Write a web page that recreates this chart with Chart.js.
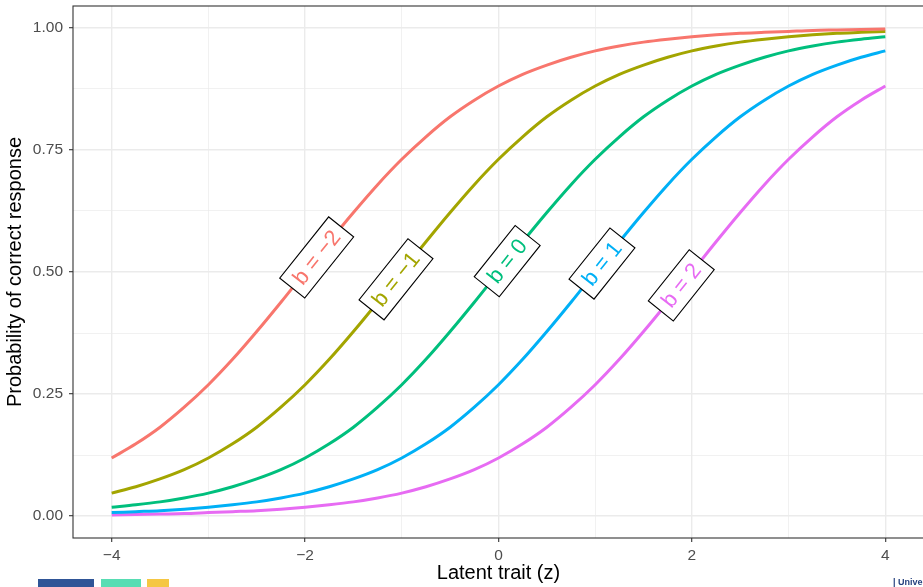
<!DOCTYPE html>
<html lang="en">
<head>
  <meta charset="UTF-8">
  <title>Item characteristic curves</title>
  <script src="https://cdn.jsdelivr.net/npm/chart.js"></script>
  <style>
    html, body { margin: 0; padding: 0; background: #fff; overflow: hidden; }
    #wrap { position: absolute; left: 0; top: 0; width: 930px; height: 587px; }
    .logo { position: absolute; top: 579px; height: 8px; }
    #uni { position: absolute; left: 893px; top: 577px; font: bold 9px 'Liberation Sans', Arial, sans-serif; color: #27427f; }
  </style>
</head>
<body>
  <div id="wrap"><canvas id="icc"></canvas></div>
  <div class="logo" style="left:38px;width:56px;background:#2f5597"></div>
  <div class="logo" style="left:101px;width:40px;background:#57ddb3"></div>
  <div class="logo" style="left:147px;width:22px;background:#f5c743"></div>
  <div id="uni">| Unive</div>

  <script>
    // latent trait grid and curves
    const zValues = [-4, -3.75, -3.5, -3.25, -3, -2.75, -2.5, -2.25, -2, -1.75, -1.5, -1.25, -1, -0.75, -0.5, -0.25,
      0, 0.25, 0.5, 0.75, 1, 1.25, 1.5, 1.75, 2, 2.25, 2.5, 2.75, 3, 3.25, 3.5, 3.75, 4];

    const bNeg2 = [0.119, 0.148, 0.182, 0.223, 0.269, 0.321, 0.378, 0.438, 0.500, 0.562, 0.622, 0.679, 0.731, 0.777, 0.818, 0.852,
      0.881, 0.905, 0.924, 0.940, 0.953, 0.963, 0.971, 0.977, 0.982, 0.986, 0.989, 0.991, 0.993, 0.995, 0.996, 0.997, 0.998];
    const bNeg1 = [0.047, 0.060, 0.076, 0.095, 0.119, 0.148, 0.182, 0.223, 0.269, 0.321, 0.378, 0.438, 0.500, 0.562, 0.622, 0.679,
      0.731, 0.777, 0.818, 0.852, 0.881, 0.905, 0.924, 0.940, 0.953, 0.963, 0.971, 0.977, 0.982, 0.986, 0.989, 0.991, 0.993];
    const b0 = [0.018, 0.023, 0.029, 0.037, 0.047, 0.060, 0.076, 0.095, 0.119, 0.148, 0.182, 0.223, 0.269, 0.321, 0.378, 0.438,
      0.500, 0.562, 0.622, 0.679, 0.731, 0.777, 0.818, 0.852, 0.881, 0.905, 0.924, 0.940, 0.953, 0.963, 0.971, 0.977, 0.982];
    const b1 = [0.007, 0.009, 0.011, 0.014, 0.018, 0.023, 0.029, 0.037, 0.047, 0.060, 0.076, 0.095, 0.119, 0.148, 0.182, 0.223,
      0.269, 0.321, 0.378, 0.438, 0.500, 0.562, 0.622, 0.679, 0.731, 0.777, 0.818, 0.852, 0.881, 0.905, 0.924, 0.940, 0.953];
    const b2 = [0.002, 0.003, 0.004, 0.005, 0.007, 0.009, 0.011, 0.014, 0.018, 0.023, 0.029, 0.037, 0.047, 0.060, 0.076, 0.095,
      0.119, 0.148, 0.182, 0.223, 0.269, 0.321, 0.378, 0.438, 0.500, 0.562, 0.622, 0.679, 0.731, 0.777, 0.818, 0.852, 0.881];

    const seriesNames = ['b = \u22122', 'b = \u22121', 'b = 0', 'b = 1', 'b = 2'];
    const seriesValues = [bNeg2, bNeg1, b0, b1, b2];
    const seriesColors = ['#F8766D', '#A3A500', '#00BF7D', '#00B0F6', '#E76BF3'];

    const xMajor = [-4, -2, 0, 2, 4];
    const xMinor = [-3, -1, 1, 3];
    const yMajor = [0, 0.25, 0.5, 0.75, 1];
    const yMinor = [0.125, 0.375, 0.625, 0.875];

    const FONT = "'Liberation Sans', Arial, sans-serif";
    const GRID = '#ebebeb';

    // where each curve's label box sits (latent trait value along the curve)
    const labelAt = [-1.88, -1.06, 0.09, 1.07, 1.89];

    function interp(vals, z) {
      for (let i = 0; i < zValues.length - 1; i++) {
        if (z >= zValues[i] && z <= zValues[i + 1]) {
          const f = (z - zValues[i]) / (zValues[i + 1] - zValues[i]);
          return vals[i] + f * (vals[i + 1] - vals[i]);
        }
      }
      return vals[vals.length - 1];
    }

    const panelBorder = {
      id: 'panelBorder',
      afterDraw(chart) {
        const { ctx, chartArea: a } = chart;
        ctx.save();
        ctx.strokeStyle = '#333333';
        ctx.lineWidth = 1.1;
        ctx.strokeRect(a.left, a.top, a.right - a.left, a.bottom - a.top);
        ctx.restore();
      }
    };

    const curveLabels = {
      id: 'curveLabels',
      afterDatasetsDraw(chart) {
        const { ctx, scales } = chart;
        const xs = scales.x, ys = scales.y;
        ctx.save();
        ctx.font = '22px ' + FONT;
        seriesValues.forEach((vals, i) => {
          const z = labelAt[i];
          const px = xs.getPixelForValue(z);
          const py = ys.getPixelForValue(interp(vals, z));
          const dx = xs.getPixelForValue(z + 0.05) - xs.getPixelForValue(z - 0.05);
          const dy = ys.getPixelForValue(interp(vals, z + 0.05)) - ys.getPixelForValue(interp(vals, z - 0.05));
          const ang = Math.atan2(dy, dx);
          const w = ctx.measureText(seriesNames[i]).width + 16;
          const h = 32;
          ctx.save();
          ctx.translate(px, py);
          ctx.rotate(ang);
          ctx.fillStyle = '#ffffff';
          ctx.fillRect(-w / 2, -h / 2, w, h);
          ctx.strokeStyle = '#000000';
          ctx.lineWidth = 1.1;
          ctx.strokeRect(-w / 2, -h / 2, w, h);
          ctx.fillStyle = seriesColors[i];
          ctx.textAlign = 'center';
          ctx.textBaseline = 'middle';
          ctx.fillText(seriesNames[i], 0, 1);
          ctx.restore();
        });
        ctx.restore();
      }
    };

    const datasets = seriesValues.map((vals, i) => ({
      label: seriesNames[i],
      data: zValues.map((z, j) => ({ x: z, y: vals[j] })),
      borderColor: seriesColors[i],
      borderWidth: 3,
      pointRadius: 0,
      fill: false,
      cubicInterpolationMode: 'monotone'
    }));

    const isMajorX = v => xMajor.includes(v);
    const isMajorY = v => yMajor.some(m => Math.abs(m - v) < 1e-9);

    new Chart(document.getElementById('icc'), {
      type: 'line',
      data: { datasets },
      options: {
        responsive: true,
        maintainAspectRatio: false,
        animation: false,
        layout: { padding: { top: 6, right: 6, left: 0, bottom: 0 } },
        plugins: { legend: { display: false }, tooltip: { enabled: false } },
        scales: {
          x: {
            type: 'linear',
            min: -4.4,
            max: 4.4,
            afterBuildTicks: s => { s.ticks = xMajor.concat(xMinor).sort((a, b) => a - b).map(v => ({ value: v })); },
            afterFit: s => { s.height = 49; s.paddingLeft = 0; s.paddingRight = 0; },
            border: { display: false },
            grid: {
              color: GRID,
              lineWidth: c => isMajorX(c.tick.value) ? 1.4 : 0.7,
              tickLength: 4,
              tickWidth: 1.1,
              tickColor: c => isMajorX(c.tick.value) ? '#333333' : 'rgba(0,0,0,0)'
            },
            ticks: {
              autoSkip: false,
              maxRotation: 0,
              padding: 4,
              color: '#4d4d4d',
              font: { family: FONT, size: 15.5 },
              callback: v => isMajorX(v) ? String(v).replace('-', '\u2212') : ''
            },
            title: {
              display: true,
              text: 'Latent trait (z)',
              color: '#000000',
              font: { family: FONT, size: 20 },
              padding: { top: 0, bottom: 2 }
            }
          },
          y: {
            type: 'linear',
            min: -0.045,
            max: 1.045,
            afterBuildTicks: s => { s.ticks = yMajor.concat(yMinor).sort((a, b) => a - b).map(v => ({ value: v })); },
            afterFit: s => { s.width = 73; s.paddingTop = 0; s.paddingBottom = 0; },
            border: { display: false },
            grid: {
              color: GRID,
              lineWidth: c => isMajorY(c.tick.value) ? 1.4 : 0.7,
              tickLength: 4,
              tickWidth: 1.1,
              tickColor: c => isMajorY(c.tick.value) ? '#333333' : 'rgba(0,0,0,0)'
            },
            ticks: {
              autoSkip: false,
              padding: 6,
              color: '#4d4d4d',
              font: { family: FONT, size: 15.5 },
              callback: v => isMajorY(v) ? v.toFixed(2) : ''
            },
            title: {
              display: true,
              text: 'Probability of correct response',
              color: '#000000',
              font: { family: FONT, size: 20 },
              padding: { top: 3, bottom: 0 }
            }
          }
        }
      },
      plugins: [panelBorder, curveLabels]
    });
  </script>
</body>
</html>
